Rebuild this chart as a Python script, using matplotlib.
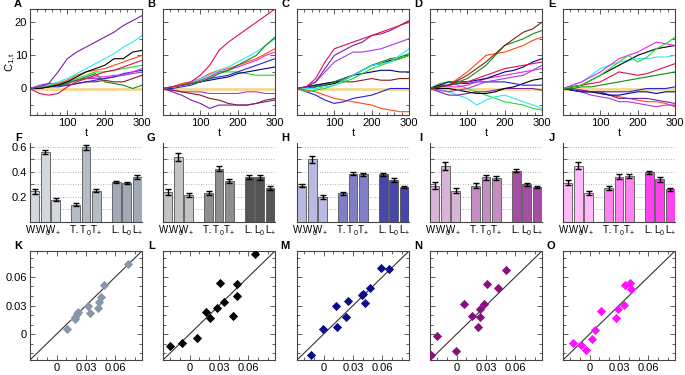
import matplotlib
matplotlib.use("Agg")
import matplotlib.pyplot as plt
import matplotlib.transforms as mtransforms
from matplotlib.ticker import MultipleLocator, FixedLocator

plt.rcParams['font.family'] = ['Liberation Sans', 'DejaVu Sans']
plt.rcParams['font.size'] = 8
plt.rcParams['mathtext.fontset'] = 'custom'
plt.rcParams['mathtext.rm'] = 'Liberation Sans'
plt.rcParams['mathtext.it'] = 'Liberation Sans'
plt.rcParams['mathtext.default'] = 'regular'

# ---- data: random walks (read roughly every 25 steps) ----
t_grid = [0, 25, 50, 75, 100, 125, 150, 175, 200, 225, 250, 275, 300]

c_purple, c_violet, c_cyan, c_black = '#7a1fa8', '#a63ce0', '#30e8f0', '#000000'
c_orange, c_crimson, c_lime, c_dgreen = '#ff4a14', '#e01048', '#22dd22', '#128a12'
c_magenta, c_blue, c_navy, c_maroon = '#ee22ee', '#2222dd', '#000088', '#8b1a1a'
c_yellow = '#f5d890'

zero = [0] * 13

walk_colors_A = [c_yellow, c_maroon, c_violet, c_blue, c_magenta, c_dgreen, c_lime,
                 c_crimson, c_orange, c_black, c_cyan, c_purple]
walks_A = [
    zero,
    [0, 0.5, 0.5, 1, 1, 1.5, 2, 2, 2.5, 2, 2, 3, 4],
    [0, 1, 1.5, 1.5, 2, 2.5, 3, 3, 3, 3.5, 4, 4.5, 5],
    [0, 0, 0.5, 0.5, 1, 1.5, 2, 2.5, 3, 3.5, 4.5, 5, 5.5],
    [0, 0.5, 1, 1, 1.5, 2.5, 3, 3.5, 3.5, 4, 4, 5, 6],
    [0, 0.5, 0.5, 1, 1.5, 2.5, 3.5, 4.5, 2, 1.5, 1, 0, 1],
    [0, 0.5, 1, 1.5, 2, 3, 4, 5, 5, 5.5, 6, 6.5, 7],
    [0, -1.5, -2, -1.5, 0.5, 2, 3, 4, 5, 5.5, 6.5, 7.5, 8.5],
    [0, 0, 0.5, 1.5, 2.5, 4, 5, 5.5, 6, 7, 8, 9, 10],
    [0, 0, 0.5, 1, 2, 3.5, 5, 6, 7, 9, 9, 11, 11.5],
    [0, 0.5, 1, 2, 3, 4.5, 6, 7.5, 9, 10.5, 12.5, 14, 16],
    [0, 0.5, 1.5, 5, 9, 11, 12.5, 14, 15.5, 17, 19, 20.5, 22],
]

walk_colors_B = [c_yellow, c_violet, c_maroon, c_purple, c_lime, c_navy, c_blue,
                 c_magenta, c_orange, c_cyan, c_dgreen, c_crimson]
walks_B = [
    zero,
    [0, -0.5, -1, -1, -1, -1.5, -1.5, -1.5, -1.5, -1, -1, -1.5, -1.5],
    [0, -0.5, -1, -1.5, -2, -3, -3.5, -4.5, -5, -5, -4.5, -3.5, -3],
    [0, -1, -2, -3.5, -4.5, -6, -5, -5, -5, -5, -4.5, -4, -3.5],
    [0, 0.5, 1, 1.5, 2.5, 3.5, 5, 5, 5, 4.5, 4, 4, 4],
    [0, 0.5, 1, 1.5, 2, 2.5, 3, 3.5, 4.5, 5, 5.5, 6, 6.5],
    [0, 0, 0.5, 1, 2, 3, 3.5, 4, 5, 6, 7, 8, 9],
    [0, 0.5, 1, 1.5, 2.5, 3.5, 5, 5.5, 6.5, 7.5, 8.5, 10, 11],
    [0, 0.5, 1.5, 2, 3, 4.5, 5.5, 6, 7, 8, 9, 10.5, 12],
    [0, 0.5, 1, 2, 3, 4, 5.5, 6.5, 8, 9.5, 11, 13, 15],
    [0, 0.5, 1, 1.5, 2, 3, 4.5, 5.5, 7, 8.5, 10, 13, 15.5],
    [0, 0.5, 1, 2, 4, 7, 11.5, 14, 16, 18, 20, 22, 24],
]

walk_colors_C = [c_yellow, c_orange, c_blue, c_maroon, c_navy, c_black, c_dgreen,
                 c_lime, c_cyan, c_violet, c_purple, c_crimson]
walks_C = [
    zero,
    [0, -0.5, -1, -2, -3, -3.5, -4, -4.5, -5, -6, -6.5, -7, -7],
    [0, -1, -2, -3.5, -4.5, -4, -3, -2.5, -2, -1, 0, 0, 0],
    [0, 0.5, 1, 1.5, 2, 2, 2, 2.5, 3, 2.5, 2.5, 3, 3],
    [0, 0.5, 1, 1.5, 2, 3, 4, 4.5, 5, 5.5, 5.5, 5, 5],
    [0, 0, 0.5, 1, 1.5, 2.5, 4, 5.5, 7, 7.5, 8.5, 9, 10],
    [0, 0, 0.5, 1, 2, 3, 4, 5.5, 7, 8, 9, 9.5, 10.5],
    [0, -1, -0.5, 0, 1, 2, 3, 4.5, 6, 7, 8, 9, 10],
    [0, 0, 0, 0.5, 1, 2.5, 4, 5.5, 7, 7.5, 8, 10, 12],
    [0, 0.5, 2, 5, 8, 9.5, 11, 11, 11.5, 12, 13, 14, 15],
    [0, 0.5, 2, 6, 10, 11.5, 13, 14, 16, 16.5, 17.5, 19, 20.5],
    [0, 0.5, 3, 8, 12, 13, 14, 15, 16, 17, 18, 19, 20],
]

walk_colors_D = [c_yellow, c_lime, c_cyan, c_purple, c_black, c_blue, c_violet,
                 c_magenta, c_navy, c_crimson, c_orange, c_dgreen, c_maroon]
walks_D = [
    zero,
    [0, 1.5, 2, 1, 0, -1, -2, -3, -4, -4.5, -5, -6, -6.5],
    [0, -0.5, -1, -2, -3, -5, -3.5, -2.5, -2, -3, -4, -5, -6],
    [0, -1, -2, -2, -1.5, -1, -1, -0.5, 0, 0, 0, 0, -0.5],
    [0, 0, 0, -0.5, -1, -1.5, -1.5, -1, 0, 0.5, 1.5, 2.5, 3],
    [0, 1, 1, 1.5, 1.5, 2, 2, 2, 2, 1.5, 1, 1, 1],
    [0, -0.5, -1, -0.5, 0, 1, 2, 2.5, 3, 3.5, 4, 5.5, 7],
    [0, 0.5, 0.5, 0.5, 1, 2, 3, 3.5, 4, 4.5, 5, 5.5, 6],
    [0, 1, 2, 2, 2, 2.5, 3, 4, 5, 5.5, 6.5, 8, 9],
    [0, 0.5, 1, 1.5, 2, 3, 4, 5, 6, 6.5, 7, 7.5, 8],
    [0, 0.5, 1, 3, 5, 7.5, 10, 10.5, 11, 12, 13, 14.5, 15.5],
    [0, 0.5, 1, 2, 3, 5, 7, 10, 13, 14, 15, 16.5, 17.5],
    [0, 0.5, 1, 2.5, 4, 6, 8, 10.5, 13, 15, 17, 18, 20],
]

walk_colors_E = [c_yellow, c_orange, c_violet, c_purple, c_navy, c_blue, c_dgreen,
                 c_crimson, c_cyan, c_black, c_magenta, c_lime]
walks_E = [
    zero,
    [0, 0, -0.5, -1, -1.5, -2, -2.5, -3, -3.5, -4, -4, -4.5, -5.5],
    [0, -0.5, -1, -2, -2.5, -3, -4, -4, -4.5, -5, -5.5, -5, -5],
    [0, -0.5, -0.5, -1, -1, -2, -3, -3, -3, -3, -3.5, -4, -4.5],
    [0, -0.5, -1, -1, -1.5, -2, -2, -1.5, -1, -1, -1.5, -1, -1],
    [0, -0.5, -1, -1, -1, -1, -1, -1, -0.5, 0, 0, 0, 0.5],
    [0, 0, 0.5, 0.5, 1, 1.5, 2, 2.5, 3, 3.5, 4, 4.5, 5],
    [0, 0.5, 1, 1.5, 2, 3.5, 5, 4.5, 4, 4.5, 5.5, 6.5, 7.5],
    [0, 1, 2, 4, 6, 7, 8, 8.5, 9, 9, 9.5, 9.5, 10],
    [0, 0.5, 1, 2.5, 4, 5.5, 7, 8.5, 10, 11, 12, 12.5, 13],
    [0, 1, 2, 3.5, 5, 7, 9, 10, 11, 12.5, 14, 13.5, 13],
    [0, 0.5, 1, 2.5, 4, 6, 8, 10, 8, 9.5, 12, 13.5, 15.5],
]

# ---- data: bar panels ----
bar_letters = ['W', 'W', 'W', 'T', 'T', 'T', 'L', 'L', 'L']
bar_subs = ['-', '0', '+', '-', '0', '+', '-', '0', '+']
bar_pos = [0, 1, 2, 3.9, 4.9, 5.9, 7.8, 8.8, 9.8]

bars_F = [0.245, 0.56, 0.178, 0.138, 0.595, 0.25, 0.32, 0.31, 0.36]
errs_F = [0.018, 0.016, 0.01, 0.014, 0.02, 0.014, 0.005, 0.01, 0.015]
bars_G = [0.24, 0.52, 0.215, 0.23, 0.425, 0.33, 0.36, 0.355, 0.27]
errs_G = [0.024, 0.032, 0.015, 0.014, 0.02, 0.015, 0.014, 0.02, 0.014]
bars_H = [0.29, 0.50, 0.20, 0.23, 0.385, 0.38, 0.38, 0.335, 0.28]
errs_H = [0.012, 0.028, 0.018, 0.013, 0.01, 0.014, 0.014, 0.015, 0.01]
bars_I = [0.29, 0.445, 0.25, 0.29, 0.355, 0.35, 0.41, 0.30, 0.28]
errs_I = [0.028, 0.03, 0.018, 0.018, 0.02, 0.014, 0.014, 0.014, 0.01]
bars_J = [0.315, 0.45, 0.23, 0.27, 0.36, 0.365, 0.395, 0.34, 0.26]
errs_J = [0.016, 0.025, 0.015, 0.014, 0.02, 0.014, 0.01, 0.02, 0.01]

bar_colors_F = ['#d3d7df', '#b5bcc7', '#a1abb7']
bar_colors_G = ['#c3c3c3', '#8e8e8e', '#555555']
bar_colors_H = ['#b9b9e2', '#7e7ec9', '#4747aa']
bar_colors_I = ['#dab4d6', '#c48ec2', '#a44fa4']
bar_colors_J = ['#ffbaf8', '#ff82f2', '#ff42f0']

# ---- data: scatter panels ----
sc_K_x = [0.011, 0.0185, 0.019, 0.0206, 0.0215, 0.0322, 0.0343, 0.0418, 0.0435, 0.0452, 0.048, 0.073]
sc_K_y = [0.005, 0.0155, 0.0178, 0.021, 0.0234, 0.029, 0.0224, 0.0277, 0.0336, 0.0392, 0.0518, 0.0729]
sc_L_x = [-0.0201, -0.0078, 0.008, 0.017, 0.0204, 0.0279, 0.0307, 0.0355, 0.0444, 0.0485, 0.0485, 0.0667]
sc_L_y = [-0.0125, -0.0096, -0.0043, 0.0227, 0.0168, 0.0277, 0.0537, 0.0333, 0.0191, 0.0524, 0.0402, 0.0837]
sc_M_x = [-0.0126, -0.0006, 0.0131, 0.0141, 0.0224, 0.0252, 0.0389, 0.0406, 0.0424, 0.0475, 0.0588, 0.0671]
sc_M_y = [-0.0214, 0.0049, 0.029, 0.0079, 0.0175, 0.0346, 0.0412, 0.0419, 0.033, 0.0481, 0.0689, 0.0682]
sc_N_x = [-0.0263, -0.0195, -0.001, 0.008, 0.0155, 0.0214, 0.0238, 0.0241, 0.0279, 0.0307, 0.042, 0.0499]
sc_N_y = [-0.0214, -0.0016, -0.0175, 0.0313, 0.0195, 0.0073, 0.0181, 0.0267, 0.0313, 0.0527, 0.0485, 0.0676]
sc_O_x = [-0.0171, -0.0089, -0.0034, 0.0021, 0.0055, 0.0117, 0.0267, 0.0288, 0.035, 0.0357, 0.0415, 0.0418]
sc_O_y = [-0.0096, -0.0109, -0.0168, -0.0049, 0.0046, 0.0244, 0.0171, 0.0264, 0.0307, 0.0514, 0.0531, 0.0468]
sc_colors = ['#8797a9', '#000000', '#0c0c8a', '#86107f', '#ff10ff']

W, H = 685, 375
fig = plt.figure(figsize=(W / 100, H / 100), dpi=100)


def px_axes(left, top, width, height):
    return fig.add_axes([left / W, 1 - (top + height) / H, width / W, height / H])


col_left = [30, 163, 297, 430, 563]
col_w = 112
spine_col = '#444444'


def style_box(ax):
    for s in ax.spines.values():
        s.set_color(spine_col)
        s.set_linewidth(0.8)
    ax.tick_params(which='both', direction='in', top=True, right=True,
                   color=spine_col, width=0.6, pad=2)
    ax.tick_params(which='major', length=3.5)
    ax.tick_params(which='minor', length=2)


# top row
walk_sets = [(walks_A, walk_colors_A), (walks_B, walk_colors_B), (walks_C, walk_colors_C),
             (walks_D, walk_colors_D), (walks_E, walk_colors_E)]
for i, (walks, cols) in enumerate(walk_sets):
    ax = px_axes(col_left[i], 9, col_w, 106)
    for w, c in zip(walks, cols):
        lw = 2.0 if c == c_yellow else 0.8
        ax.plot(t_grid, w, color=c, lw=lw)
    ax.set_xlim(0, 300)
    ax.set_ylim(-8, 24)
    ax.xaxis.set_major_locator(FixedLocator([100, 200, 300]))
    ax.xaxis.set_minor_locator(MultipleLocator(20))
    ax.yaxis.set_major_locator(FixedLocator([0, 10, 20]))
    ax.yaxis.set_minor_locator(MultipleLocator(5))
    style_box(ax)
    ax.set_xlabel('t', labelpad=0)
    if i == 0:
        ax.set_ylabel('C$_{1,t}$', fontsize=8)
        ax.yaxis.set_label_coords(-0.11, 0.5)
    else:
        ax.set_yticklabels([])
    ax.text(-0.07, 1.0, 'ABCDE'[i], transform=ax.transAxes, fontweight='bold',
            ha='right', va='bottom', fontsize=8)

# middle row
bar_sets = [(bars_F, errs_F, bar_colors_F), (bars_G, errs_G, bar_colors_G),
            (bars_H, errs_H, bar_colors_H), (bars_I, errs_I, bar_colors_I),
            (bars_J, errs_J, bar_colors_J)]
for i, (vals, errs, cols) in enumerate(bar_sets):
    ax = px_axes(col_left[i], 143, col_w, 79)
    colors = [cols[0]] * 3 + [cols[1]] * 3 + [cols[2]] * 3
    for y in [0.1, 0.2, 0.3, 0.4, 0.5, 0.6]:
        ax.axhline(y, color='#999999', lw=0.6, ls=(0, (1, 2)), zorder=0)
    ax.bar(bar_pos, vals, width=0.85, color=colors, edgecolor='#555555', lw=0.6, zorder=2)
    ax.errorbar(bar_pos, vals, yerr=errs, fmt='none', ecolor='black', elinewidth=1.0,
                capsize=2.5, capthick=1.0, zorder=3)
    ax.set_xlim(-0.45, 10.25)
    ax.set_ylim(0, 0.63)
    ax.spines['top'].set_visible(False)
    ax.spines['right'].set_visible(False)
    for s in ['left', 'bottom']:
        ax.spines[s].set_color(spine_col)
        ax.spines[s].set_linewidth(0.8)
    ax.set_xticks([])
    # category labels: letter + small subscript, placed by hand so they sit tight
    base = mtransforms.blended_transform_factory(ax.transData, ax.transAxes)
    tr_letter = mtransforms.offset_copy(base, fig=fig, x=0.0, y=-2.0, units='points')
    tr_sub = mtransforms.offset_copy(base, fig=fig, x=0.2, y=-8.0, units='points')
    for p, let, sub in zip(bar_pos, bar_letters, bar_subs):
        ax.text(p, 0, let, transform=tr_letter, ha='right', va='top', fontsize=7)
        ax.text(p, 0, sub, transform=tr_sub, ha='left', va='center', fontsize=5)
    ax.set_yticks([0.1, 0.2, 0.3, 0.4, 0.5, 0.6])
    ax.tick_params(axis='y', direction='in', length=3, color=spine_col, width=0.6, pad=2)
    if i == 0:
        ax.set_yticklabels(['', '0.2', '', '0.4', '', '0.6'])
    else:
        ax.set_yticklabels([])
    ax.text(-0.07, 1.0, 'FGHIJ'[i], transform=ax.transAxes, fontweight='bold',
            ha='right', va='bottom', fontsize=8)

# bottom row
sc_sets = [(sc_K_x, sc_K_y), (sc_L_x, sc_L_y), (sc_M_x, sc_M_y), (sc_N_x, sc_N_y), (sc_O_x, sc_O_y)]
lim = (-0.027, 0.087)
for i, (xs, ys) in enumerate(sc_sets):
    ax = px_axes(col_left[i], 251, col_w, 109)
    ax.plot(lim, lim, color='#333333', lw=0.8, zorder=1)
    ax.scatter(xs, ys, marker='D', s=22, color=sc_colors[i], lw=0, zorder=3)
    ax.set_xlim(lim)
    ax.set_ylim(lim)
    ax.xaxis.set_major_locator(FixedLocator([0, 0.03, 0.06]))
    ax.yaxis.set_major_locator(FixedLocator([0, 0.03, 0.06]))
    ax.xaxis.set_minor_locator(MultipleLocator(0.01))
    ax.yaxis.set_minor_locator(MultipleLocator(0.01))
    style_box(ax)
    ax.set_xticklabels(['0', '0.03', '0.06'])
    if i == 0:
        ax.set_yticklabels(['0', '0.03', '0.06'])
    else:
        ax.set_yticklabels([])
    ax.text(-0.07, 1.0, 'KLMNO'[i], transform=ax.transAxes, fontweight='bold',
            ha='right', va='bottom', fontsize=8)

fig.savefig('out.png', dpi=100)
